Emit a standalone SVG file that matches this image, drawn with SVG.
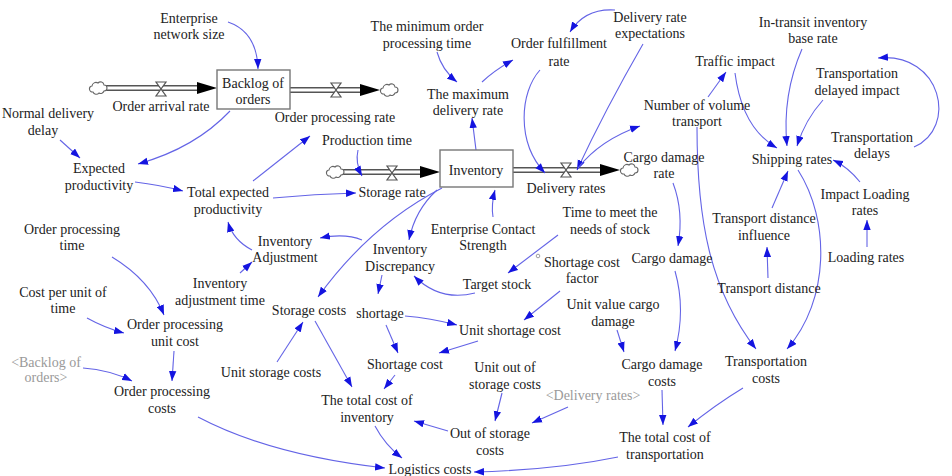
<svg xmlns="http://www.w3.org/2000/svg" width="952" height="476" viewBox="0 0 952 476">
<style>
text{font-family:"Liberation Serif","Times New Roman",serif;font-size:14px;fill:#222;text-anchor:middle}
.ghost{fill:#9a9a9a}
.lk{fill:none;stroke:#6464e6;stroke-width:1.1}
.pipeo{fill:none;stroke:#555;stroke-width:6}
.pipei{fill:none;stroke:#fff;stroke-width:3}
.valve{fill:#fff;stroke:#555;stroke-width:1.2}
.cloud{fill:#fff;stroke:#666;stroke-width:1.1}
.stock{fill:#fff;stroke:#777;stroke-width:1.4}
.fh{fill:#000}
</style>
<defs>
<marker id="ah" markerWidth="11" markerHeight="8" refX="10" refY="4" orient="auto" markerUnits="userSpaceOnUse"><path d="M0,0.3 L10,4 L0,7.7 z" fill="#1414e0"/></marker>
<path id="cl" d="M-5,4 a3,3 0 0 1 -1,-6 a4,4 0 0 1 6,-3 a3.5,3.5 0 0 1 6,2 a3,3 0 0 1 0,6 a3.5,3.5 0 0 1 -5,2 a3.5,3.5 0 0 1 -6,-1 z"/>
<path id="vl" d="M-5,-7 L5,-7 L-5,7 L5,7 Z"/>
</defs>

<g id="flows">
<path class="pipeo" d="M106,88 L198,88"/><path class="pipei" d="M106,88 L198,88"/>
<path class="fh" d="M197,82 L217,88 L197,94 z"/>
<use href="#cl" x="98" y="88" class="cloud"/>
<path class="pipeo" d="M290,90 L362,90"/><path class="pipei" d="M290,90 L362,90"/>
<path class="fh" d="M360,84 L380,90 L360,96 z"/>
<use href="#cl" x="389" y="90" class="cloud"/>
<path class="pipeo" d="M343,172 L421,172"/><path class="pipei" d="M343,172 L421,172"/>
<path class="fh" d="M420,166 L440,172 L420,178 z"/>
<use href="#cl" x="335" y="172" class="cloud"/>
<path class="pipeo" d="M513,170 L601,170"/><path class="pipei" d="M513,170 L601,170"/>
<path class="fh" d="M600,164 L620,170 L600,176 z"/>
<use href="#cl" x="629" y="170" class="cloud"/>
</g>

<g id="connectors">
<path class="lk" marker-end="url(#ah)" d="M228,22 Q257,32 258,69"/>
<path class="lk" marker-end="url(#ah)" d="M230,111 Q195,148 138,164"/>
<path class="lk" marker-end="url(#ah)" d="M60,140 L80,158"/>
<path class="lk" marker-end="url(#ah)" d="M135,182 Q160,185 183,191"/>
<path class="lk" marker-end="url(#ah)" d="M253,181 L310,136"/>
<path class="lk" marker-end="url(#ah)" d="M273,198 Q315,194 356,193"/>
<path class="lk" marker-end="url(#ah)" d="M358,150 Q355,163 362,176"/>
<path class="lk" marker-end="url(#ah)" d="M476,150 L472,118"/>
<path class="lk" marker-end="url(#ah)" d="M437,52 Q442,70 457,82"/>
<path class="lk" marker-end="url(#ah)" d="M482,82 Q495,70 513,60"/>
<path class="lk" marker-end="url(#ah)" d="M615,10 Q585,8 570,32"/>
<path class="lk" marker-end="url(#ah)" d="M540,70 C520,92 516,142 545,173"/>
<path class="lk" marker-end="url(#ah)" d="M643,44 Q605,110 577,170"/>
<path class="lk" marker-end="url(#ah)" d="M578,168 Q600,140 640,126"/>
<path class="lk" marker-end="url(#ah)" d="M708,97 L726,72"/>
<path class="lk" marker-end="url(#ah)" d="M735,73 Q742,128 777,148"/>
<path class="lk" marker-end="url(#ah)" d="M802,49 Q782,95 787,146"/>
<path class="lk" marker-end="url(#ah)" d="M823,100 Q805,120 797,146"/>
<path class="lk" marker-end="url(#ah)" d="M914,147 C958,128 942,52 878,58"/>
<path class="lk" marker-end="url(#ah)" d="M860,182 Q848,167 833,160"/>
<path class="lk" marker-end="url(#ah)" d="M867,247 L867,220"/>
<path class="lk" marker-end="url(#ah)" d="M772,208 L788,171"/>
<path class="lk" marker-end="url(#ah)" d="M768,278 L767,247"/>
<path class="lk" marker-end="url(#ah)" d="M798,170 C830,220 830,300 787,349"/>
<path class="lk" marker-end="url(#ah)" d="M697,127 C697,220 710,290 756,349"/>
<path class="lk" marker-end="url(#ah)" d="M673,183 Q684,212 678,246"/>
<path class="lk" marker-end="url(#ah)" d="M675,271 Q686,310 675,351"/>
<path class="lk" marker-end="url(#ah)" d="M617,330 L624,352"/>
<path class="lk" marker-end="url(#ah)" d="M662,390 L663,425"/>
<path class="lk" marker-end="url(#ah)" d="M743,388 Q715,405 688,427"/>
<path class="lk" marker-end="url(#ah)" d="M618,457 Q555,470 474,472"/>
<path class="lk" marker-end="url(#ah)" d="M198,417 Q270,455 385,468"/>
<path class="lk" marker-end="url(#ah)" d="M375,426 Q385,445 402,458"/>
<path class="lk" marker-end="url(#ah)" d="M448,431 L414,421"/>
<path class="lk" marker-end="url(#ah)" d="M502,393 L495,421"/>
<path class="lk" marker-end="url(#ah)" d="M568,407 L532,423"/>
<path class="lk" marker-end="url(#ah)" d="M315,321 L352,387"/>
<path class="lk" marker-end="url(#ah)" d="M395,375 L384,389"/>
<path class="lk" marker-end="url(#ah)" d="M386,325 L398,353"/>
<path class="lk" marker-end="url(#ah)" d="M405,316 Q430,318 457,325"/>
<path class="lk" marker-end="url(#ah)" d="M478,341 L439,353"/>
<path class="lk" marker-end="url(#ah)" d="M560,291 L524,320"/>
<path class="lk" marker-end="url(#ah)" d="M558,235 L508,273"/>
<path class="lk" marker-end="url(#ah)" d="M475,293 Q440,302 414,276"/>
<path class="lk" marker-end="url(#ah)" d="M437,190 Q415,210 409,240"/>
<path class="lk" marker-end="url(#ah)" d="M442,188 Q370,225 318,297"/>
<path class="lk" marker-end="url(#ah)" d="M362,240 Q345,233 320,238"/>
<path class="lk" marker-end="url(#ah)" d="M252,250 Q233,240 228,222"/>
<path class="lk" marker-end="url(#ah)" d="M240,273 L252,262"/>
<path class="lk" marker-end="url(#ah)" d="M493,217 Q491,205 495,190"/>
<path class="lk" marker-end="url(#ah)" d="M112,257 Q150,280 164,315"/>
<path class="lk" marker-end="url(#ah)" d="M87,318 Q105,328 124,333"/>
<path class="lk" marker-end="url(#ah)" d="M174,351 L172,381"/>
<path class="lk" marker-end="url(#ah)" d="M83,368 Q110,370 132,381"/>
<path class="lk" marker-end="url(#ah)" d="M277,362 L303,322"/>
<path class="lk" marker-end="url(#ah)" d="M382,275 L378,294"/>
</g>

<g id="backlog_of_orders"><rect class="stock" x="217" y="70" width="73" height="39"/><text x="253" y="88">Backlog of</text><text x="253" y="104">orders</text></g>
<g id="inventory"><rect class="stock" x="440" y="150" width="73" height="37"/><text x="476" y="175">Inventory</text></g>
<g id="order_arrival_rate"><use href="#vl" x="161" y="89" class="valve"/><text x="161" y="111">Order arrival rate</text></g>
<g id="order_processing_rate"><use href="#vl" x="336" y="90" class="valve"/><text x="335" y="122">Order processing rate</text></g>
<g id="storage_rate"><use href="#vl" x="392" y="173" class="valve"/><text x="392" y="197">Storage rate</text></g>
<g id="delivery_rates"><use href="#vl" x="566" y="170" class="valve"/><text x="566" y="193">Delivery rates</text></g>

<g id="enterprise_network_size"><text x="189" y="23">Enterprise</text><text x="189" y="39">network size</text></g>
<g id="normal_delivery_delay"><text x="48" y="118">Normal delivery</text><text x="43" y="135">delay</text></g>
<g id="min_order_processing_time"><text x="427" y="31">The minimum order</text><text x="427" y="48">processing time</text></g>
<g id="max_delivery_rate"><text x="468" y="99">The maximum</text><text x="468" y="115">delivery rate</text></g>
<g id="order_fulfillment_rate"><text x="559" y="48">Order fulfillment</text><text x="559" y="66">rate</text></g>
<g id="delivery_rate_expectations"><text x="650" y="22">Delivery rate</text><text x="650" y="38">expectations</text></g>
<g id="traffic_impact"><text x="735" y="66">Traffic impact</text></g>
<g id="in_transit_base_rate"><text x="813" y="27">In-transit inventory</text><text x="813" y="43">base rate</text></g>
<g id="transportation_delayed_impact"><text x="857" y="78">Transportation</text><text x="857" y="95">delayed impact</text></g>
<g id="number_of_volume_transport"><text x="697" y="110">Number of volume</text><text x="697" y="126">transport</text></g>
<g id="transportation_delays"><text x="872" y="142">Transportation</text><text x="872" y="158">delays</text></g>
<g id="production_time"><text x="367" y="145">Production time</text></g>
<g id="expected_productivity"><text x="99" y="173">Expected</text><text x="99" y="190">productivity</text></g>
<g id="shipping_rates"><text x="792" y="164">Shipping rates</text></g>
<g id="cargo_damage_rate"><text x="664" y="162">Cargo damage</text><text x="664" y="178">rate</text></g>
<g id="total_expected_productivity"><text x="228" y="197">Total expected</text><text x="228" y="214">productivity</text></g>
<g id="impact_loading_rates"><text x="865" y="199">Impact Loading</text><text x="865" y="215">rates</text></g>
<g id="time_to_meet"><text x="610" y="217">Time to meet the</text><text x="610" y="234">needs of stock</text></g>
<g id="transport_distance_influence"><text x="764" y="223">Transport distance</text><text x="764" y="240">influence</text></g>
<g id="order_processing_time"><text x="72" y="234">Order processing</text><text x="72" y="250">time</text></g>
<g id="enterprise_contact_strength"><text x="483" y="234">Enterprise Contact</text><text x="483" y="250">Strength</text></g>
<g id="inventory_adjustment"><text x="285" y="246">Inventory</text><text x="285" y="262">Adjustment</text></g>
<g id="inventory_discrepancy"><text x="400" y="254">Inventory</text><text x="400" y="271">Discrepancy</text></g>
<g id="loading_rates"><text x="866" y="262">Loading rates</text></g>
<g id="cargo_damage"><text x="672" y="263">Cargo damage</text></g>
<g id="shortage_cost_factor"><circle cx="538" cy="256" r="1.8" fill="none" stroke="#888" stroke-width="0.8"/><text x="582" y="267">Shortage cost</text><text x="582" y="283">factor</text></g>
<g id="target_stock"><text x="497" y="289">Target stock</text></g>
<g id="inventory_adjustment_time"><text x="220" y="288">Inventory</text><text x="220" y="305">adjustment time</text></g>
<g id="transport_distance"><text x="769" y="293">Transport distance</text></g>
<g id="cost_per_unit_time"><text x="63" y="297">Cost per unit of</text><text x="63" y="313">time</text></g>
<g id="unit_value_cargo_damage"><text x="613" y="309">Unit value cargo</text><text x="613" y="326">damage</text></g>
<g id="storage_costs"><text x="309" y="315">Storage costs</text></g>
<g id="shortage"><text x="380" y="318">shortage</text></g>
<g id="order_processing_unit_cost"><text x="175" y="329">Order processing</text><text x="175" y="346">unit cost</text></g>
<g id="unit_shortage_cost"><text x="510" y="335">Unit shortage cost</text></g>
<g id="shortage_cost"><text x="405" y="369">Shortage cost</text></g>
<g id="unit_out_of_storage_costs"><text x="505" y="372">Unit out of</text><text x="505" y="389">storage costs</text></g>
<g id="cargo_damage_costs"><text x="662" y="369">Cargo damage</text><text x="662" y="386">costs</text></g>
<g id="transportation_costs"><text x="766" y="366">Transportation</text><text x="766" y="383">costs</text></g>
<g id="unit_storage_costs"><text x="271" y="377">Unit storage costs</text></g>
<g id="backlog_shadow"><text class="ghost" x="46" y="367">&lt;Backlog of</text><text class="ghost" x="46" y="382">orders&gt;</text></g>
<g id="order_processing_costs"><text x="162" y="396">Order processing</text><text x="162" y="413">costs</text></g>
<g id="delivery_rates_shadow"><text class="ghost" x="593" y="400">&lt;Delivery rates&gt;</text></g>
<g id="total_cost_inventory"><text x="367" y="405">The total cost of</text><text x="367" y="422">inventory</text></g>
<g id="out_of_storage_costs"><text x="490" y="438">Out of storage</text><text x="490" y="455">costs</text></g>
<g id="total_cost_transportation"><text x="665" y="442">The total cost of</text><text x="665" y="459">transportation</text></g>
<g id="logistics_costs"><text x="430" y="474">Logistics costs</text></g>
</svg>
